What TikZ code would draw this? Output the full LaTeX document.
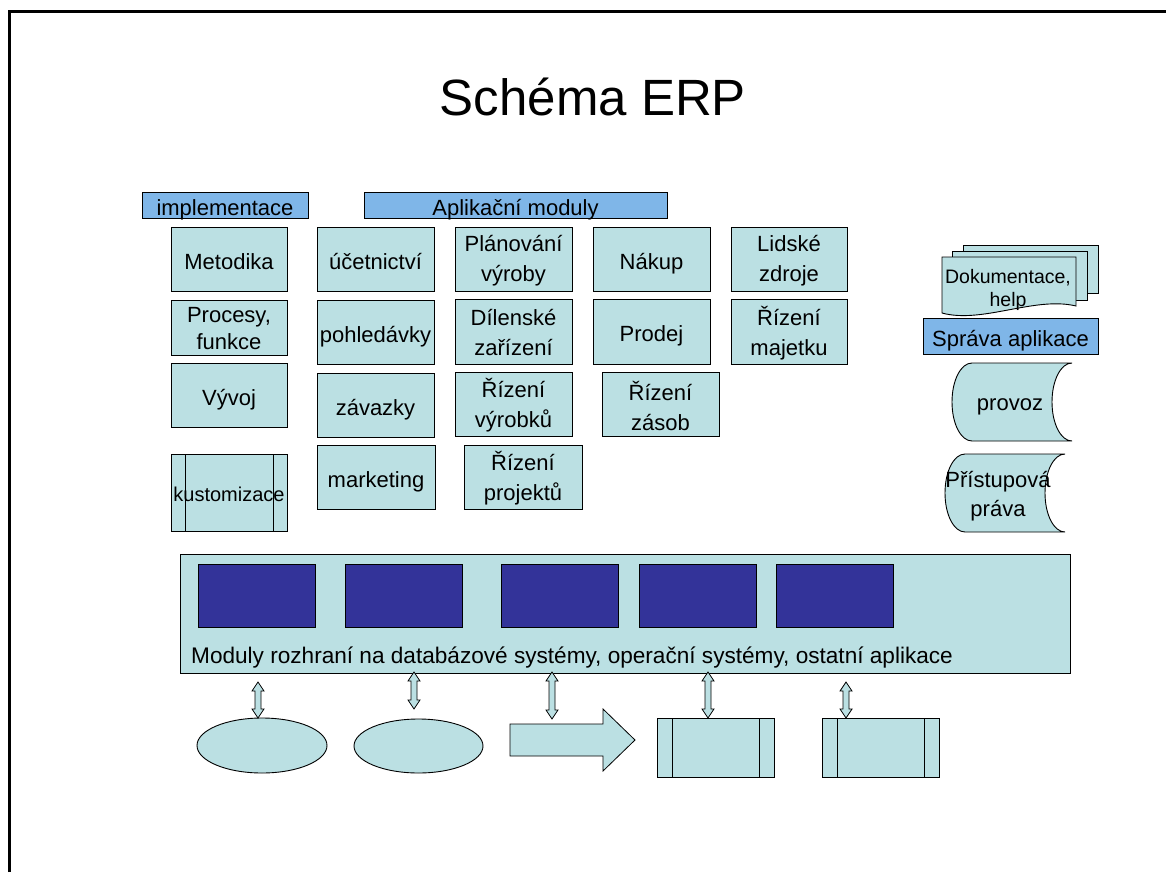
\documentclass[tikz,border=0pt]{standalone}
\usepackage{fontspec}
\setmainfont{Liberation Sans}
\usetikzlibrary{shapes.geometric}
\definecolor{erpfill}{HTML}{BBE0E3}
\definecolor{erphead}{HTML}{7FB6E8}
\definecolor{erpdark}{HTML}{333399}
\newcommand\erpfont{\fontsize{22}{30}\selectfont}
\newcommand\udarr[3]{%
  \draw[arrowshape] (#1,#2) -- (#1+6,#2+9) -- (#1+3,#2+9) -- (#1+3,#3-9) -- (#1+6,#3-9)
    -- (#1,#3) -- (#1-6,#3-9) -- (#1-3,#3-9) -- (#1-3,#2+9) -- (#1-6,#2+9) -- cycle;}
\tikzset{
  boxstyle/.style={draw=black, fill=erpfill, line width=0.9pt, inner sep=0pt, align=center, font=\erpfont, text height=22pt, text depth=2pt},
  headstyle/.style={draw=black, fill=erphead, line width=0.9pt, inner sep=0pt, align=center, font=\erpfont, text height=22pt, text depth=2pt},
  darkstyle/.style={draw=black, fill=erpdark, line width=0.9pt, inner sep=0pt},
  txt/.style={font=\erpfont, align=center, inner sep=0pt},
  sz/.style 2 args={minimum width=#1pt, minimum height=#2pt},
  shapeline/.style={draw=black, fill=erpfill, line width=0.9pt},
  arrowshape/.style={draw=black, fill=erpfill, line width=0.8pt, line join=miter},
  innerline/.style={draw=black, line width=0.9pt},
}
\begin{document}
\begin{tikzpicture}[x=1pt,y=-1pt]
\useasboundingbox (0,0) rectangle (1166,872);
\fill[white] (0,0) rectangle (1166,872);
% frame
\draw[line width=3pt] (9.5,872) -- (9.5,11.5) -- (1166,11.5);
% title
\node[font=\fontsize{51}{60}\selectfont, anchor=base] (title) at (593,115) {Schéma ERP};
% headers
\node[headstyle, sz={166}{26}] (impl) at (225,205) {implementace};
\node[headstyle, sz={303}{26}] (aplik) at (515.5,205) {Aplikační moduly};
% column 1
\node[boxstyle, sz={116}{64}] (metodika) at (229,259) {Metodika};
\node[boxstyle, sz={116}{55}] (procesy) at (229,327.5) {};
\node[txt, font=\fontsize{22}{27}\selectfont] (procesyt) at ([yshift=-1.5pt]procesy.center) {Procesy,\\funkce};
\node[boxstyle, sz={116}{64}] (vyvoj) at (229,395) {Vývoj};
\node[boxstyle, sz={116}{77}] (kust) at (229,492.5) {};
\draw[innerline] (185,454) -- (185,531);
\draw[innerline] (273,454) -- (273,531);
\node[font=\fontsize{20}{24}\selectfont] (kusttext) at (229,494) {kustomizace};
% column 2
\node[boxstyle, sz={117}{64}] (ucet) at (375.5,259) {účetnictví};
\node[boxstyle, sz={117}{64}] (pohl) at (375.5,332) {pohledávky};
\node[boxstyle, sz={117}{64}] (zav) at (375.5,405) {závazky};
\node[boxstyle, sz={118}{64}] (mark) at (376,477) {marketing};
% column 3
\node[boxstyle, sz={117}{64}] (plan) at (513.5,259) {};
\node[txt] (plant) at ([yshift=-1.5pt]plan.center) {Plánování\\výroby};
\node[boxstyle, sz={117}{65}] (dil) at (513.5,331.5) {};
\node[txt] (dilt) at ([yshift=-1.5pt]dil.center) {Dílenské\\zařízení};
\node[boxstyle, sz={117}{64}] (rvyr) at (513.5,404) {};
\node[txt] (rvyrt) at ([yshift=-1.5pt]rvyr.center) {Řízení\\výrobků};
\node[boxstyle, sz={118}{64}] (rproj) at (523,477) {};
\node[txt] (rprojt) at ([yshift=-1.5pt]rproj.center) {Řízení\\projektů};
% column 4
\node[boxstyle, sz={117}{64}] (nakup) at (651.5,259) {Nákup};
\node[boxstyle, sz={117}{65}] (prodej) at (651.5,331.5) {Prodej};
\node[boxstyle, sz={117}{64}] (rzas) at (660.5,404) {};
\node[txt] (rzast) at ([yshift=-1.5pt]rzas.center) {Řízení\\zásob};
% column 5
\node[boxstyle, sz={116}{64}] (lidske) at (789,259) {};
\node[txt] (lidsket) at ([yshift=-1.5pt]lidske.center) {Lidské\\zdroje};
\node[boxstyle, sz={116}{65}] (rmaj) at (789,331.5) {};
\node[txt] (rmajt) at ([yshift=-1.5pt]rmaj.center) {Řízení\\majetku};
% documents
\draw[shapeline] (963,245) rectangle (1098,293);
\draw[shapeline] (952,251) rectangle (1087,300);
\draw[shapeline] (942,257) -- (1076,257) -- (1076,306)
  .. controls (1035,296) and (982,324) .. (942,313) -- cycle;
\node[font=\fontsize{19.5}{23}\selectfont, align=center] (doku) at (1008,290) {Dokumentace,\\help};
\node[headstyle, sz={175}{36}] (sprava) at (1010.5,336) {Správa aplikace};
% provoz
\draw[shapeline] (972,363) -- (1072,363)
  .. controls (1061,363) and (1052,380) .. (1052,402)
  .. controls (1052,424) and (1061,441) .. (1072,441)
  -- (972,441)
  .. controls (961,441) and (952,424) .. (952,402)
  .. controls (952,380) and (961,363) .. (972,363) -- cycle;
\node[font=\erpfont] (provoz) at (1010,407) {provoz};
% pristupova prava
\draw[shapeline] (965,454) -- (1065,454)
  .. controls (1054,454) and (1045,471) .. (1045,493)
  .. controls (1045,515) and (1054,532) .. (1065,532)
  -- (965,532)
  .. controls (954,532) and (945,515) .. (945,493)
  .. controls (945,471) and (954,454) .. (965,454) -- cycle;
\node[txt, font=\fontsize{22}{29}\selectfont] (prava) at (998,496) {Přístupová\\práva};
% interface bar
\node[boxstyle, sz={890}{119}] (bar) at (625,613.5) {};
\node[darkstyle, sz={117}{63}] (d1) at (256.5,595.5) {};
\node[darkstyle, sz={117}{63}] (d2) at (403.5,595.5) {};
\node[darkstyle, sz={117}{63}] (d3) at (559.5,595.5) {};
\node[darkstyle, sz={117}{63}] (d4) at (697.5,595.5) {};
\node[darkstyle, sz={117}{63}] (d5) at (834.5,595.5) {};
\node[font=\fontsize{22.6}{28}\selectfont, anchor=west, inner sep=0pt] (bartext) at (191,657.5) {Moduly rozhraní na databázové systémy, operační systémy, ostatní aplikace};
% bottom shapes
\node[ellipse, draw=black, fill=erpfill, line width=0.9pt, sz={130}{55}] (e1) at (262,745.5) {};
\node[ellipse, draw=black, fill=erpfill, line width=0.9pt, sz={129}{54}] (e2) at (418.5,746) {};
\draw[arrowshape] (510,724) -- (603,724) -- (603,709) -- (635,740) -- (603,771) -- (603,756) -- (510,756) -- cycle;
\node[boxstyle, sz={117}{59}] (b4) at (715.5,747.5) {};
\draw[innerline] (672,718) -- (672,777);
\draw[innerline] (759,718) -- (759,777);
\node[boxstyle, sz={117}{59}] (b5) at (880.5,747.5) {};
\draw[innerline] (837,718) -- (837,777);
\draw[innerline] (924,718) -- (924,777);
% double arrows
\udarr{258}{682}{718}
\udarr{414}{672}{709}
\udarr{552}{672}{719}
\udarr{708}{672}{718}
\udarr{846}{682}{718}
\end{tikzpicture}
\end{document}
